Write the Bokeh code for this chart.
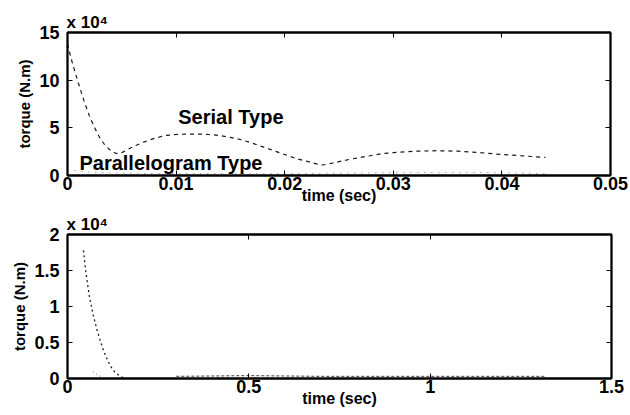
from bokeh.plotting import figure
from bokeh.layouts import column
from bokeh.models import LinearAxis, FixedTicker, Label, Range1d
from bokeh.embed import file_html
from bokeh.resources import INLINE

# ---------------- data (torque in units of 1e4 N.m) ----------------
top_t_serial = [0, 0.0004, 0.001, 0.0015, 0.002, 0.0025, 0.003, 0.0035, 0.004, 0.0045,
                0.005, 0.006, 0.007, 0.008, 0.009, 0.010, 0.011, 0.012, 0.013, 0.014,
                0.015, 0.016, 0.017, 0.018, 0.019, 0.020, 0.021, 0.022, 0.023, 0.0235,
                0.024, 0.025, 0.026, 0.027, 0.028, 0.029, 0.030, 0.032, 0.034, 0.036,
                0.038, 0.040, 0.042, 0.044]
top_torque_serial = [13.8, 12.0, 9.7, 7.9, 6.3, 5.0, 3.9, 3.1, 2.6, 2.3,
                     2.4, 3.0, 3.5, 3.9, 4.2, 4.3, 4.35, 4.35, 4.3, 4.2,
                     4.0, 3.75, 3.4, 3.0, 2.6, 2.2, 1.8, 1.5, 1.2, 1.1,
                     1.2, 1.45, 1.7, 1.9, 2.1, 2.3, 2.4, 2.55, 2.6, 2.55,
                     2.4, 2.2, 2.05, 1.9]
top_t_para = [0, 0.002, 0.005, 0.01, 0.02, 0.03, 0.04, 0.044]
top_torque_para = [0.6, 0.35, 0.25, 0.2, 0.2, 0.3, 0.3, 0.2]

bot_t_decay = [0.044, 0.05, 0.06, 0.07, 0.08, 0.09, 0.10, 0.11, 0.12, 0.13, 0.14, 0.15, 0.16]
bot_torque_decay = [1.78, 1.5, 1.15, 0.9, 0.7, 0.53, 0.38, 0.26, 0.16, 0.09, 0.05, 0.02, 0.01]
bot_t_short = [0.07, 0.08, 0.09, 0.10]
bot_torque_short = [0.1, 0.06, 0.03, 0.01]
bot_t_flat = [0.30, 0.5, 0.7, 0.9, 1.1, 1.32]
bot_torque_flat = [0.03, 0.04, 0.03, 0.03, 0.03, 0.03]

top_xticks = [0, 0.01, 0.02, 0.03, 0.04, 0.05]
top_xlabels = ["0", "0.01", "0.02", "0.03", "0.04", "0.05"]
top_yticks = [0, 5, 10, 15]
top_ylabels = ["0", "5", "10", "15"]
bot_xticks = [0, 0.5, 1, 1.5]
bot_xlabels = ["0", "0.5", "1", "1.5"]
bot_yticks = [0, 0.5, 1, 1.5, 2]
bot_ylabels = ["0", "0.5", "1", "1.5", "2"]
scale_text = "x 10\u2074"

FONT = "Liberation Sans"
INK = "#1a1a1a"


def make_fig(xr, yr, xt, xl, yt, yl, left, fw, fh, top_border, bottom_border):
    p = figure(frame_width=fw, frame_height=fh, x_range=Range1d(*xr), y_range=Range1d(*yr),
               output_backend="svg", toolbar_location=None,
               min_border_left=left, min_border_right=19,
               min_border_top=top_border, min_border_bottom=bottom_border)
    p.grid.visible = False
    p.outline_line_color = "black"
    p.outline_line_width = 1.8
    p.background_fill_color = "white"
    p.border_fill_color = "white"
    for ax in (p.xaxis[0], p.yaxis[0]):
        ax.major_tick_in = 5
        ax.major_tick_out = 0
        ax.minor_tick_line_color = None
        ax.axis_line_width = 1.8
        ax.axis_line_color = "black"
        ax.major_tick_line_color = "black"
        ax.major_label_text_font = FONT
        ax.major_label_text_font_style = "bold"
        ax.major_label_text_color = "black"
        ax.axis_label_text_font = FONT
        ax.axis_label_text_font_style = "bold"
        ax.axis_label_text_color = "black"
    p.xaxis[0].ticker = FixedTicker(ticks=xt)
    p.xaxis[0].major_label_overrides = {t: s for t, s in zip(xt, xl)}
    p.yaxis[0].ticker = FixedTicker(ticks=yt)
    p.yaxis[0].major_label_overrides = {t: s for t, s in zip(yt, yl)}
    p.xaxis[0].major_label_text_font_size = "18px"
    p.yaxis[0].major_label_text_font_size = "18px"
    p.xaxis[0].major_label_standoff = 1
    p.yaxis[0].major_label_standoff = 8
    p.xaxis[0].axis_label = "time (sec)"
    p.xaxis[0].axis_label_text_font_size = "16px"
    p.xaxis[0].axis_label_standoff = -6
    p.yaxis[0].axis_label = "torque (N.m)"
    p.yaxis[0].axis_label_text_font_size = "15px"
    p.yaxis[0].axis_label_standoff = 3
    # mirrored ticks on top / right (no labels)
    right = LinearAxis(ticker=FixedTicker(ticks=yt), major_label_overrides={t: "" for t in yt},
                       major_tick_in=5, major_tick_out=0, minor_tick_line_color=None,
                       axis_line_width=1.8, major_label_standoff=0)
    above = LinearAxis(ticker=FixedTicker(ticks=xt), major_label_overrides={t: "" for t in xt},
                       major_tick_in=5, major_tick_out=0, minor_tick_line_color=None,
                       axis_line_width=1.8, major_label_standoff=0)
    p.add_layout(right, "right")
    p.add_layout(above, "above")
    # exponent as title
    p.title.text = scale_text
    p.title.align = "left"
    p.title.offset = -1
    p.title.standoff = 2
    p.title.text_font = FONT
    p.title.text_font_style = "bold"
    p.title.text_font_size = "17px"
    p.title.text_color = "black"
    return p


p1 = make_fig((0, 0.05), (0, 15), top_xticks, top_xlabels, top_yticks, top_ylabels,
              66, 543, 143, 32, 35)
p1.line(top_t_serial, top_torque_serial, line_color=INK, line_width=1.2, line_dash="4 4")
p1.line(top_t_para, top_torque_para, line_color="#777777", line_width=1, line_dash="1 6")
p1.add_layout(Label(x=0.0102, y=6.1, text="Serial Type", text_font=FONT, text_font_style="bold",
                    text_font_size="20px", text_baseline="middle", text_color="black"))
p1.add_layout(Label(x=0.0011, y=1.36, text="Parallelogram Type", text_font=FONT,
                    text_font_style="bold", text_font_size="20px", text_baseline="middle",
                    text_color="black"))

p2 = make_fig((0, 1.5), (0, 2), bot_xticks, bot_xlabels, bot_yticks, bot_ylabels,
              67, 544, 144, 24, 33)
p2.line(bot_t_decay, bot_torque_decay, line_color=INK, line_width=1.3, line_dash="2 3")
p2.line(bot_t_short, bot_torque_short, line_color="#555555", line_width=1, line_dash="1 3")
p2.line(bot_t_flat, bot_torque_flat, line_color="#444444", line_width=1, line_dash="3 2")

layout = column(p1, p2, spacing=0)
open("out.html", "w").write(file_html(layout, INLINE))
